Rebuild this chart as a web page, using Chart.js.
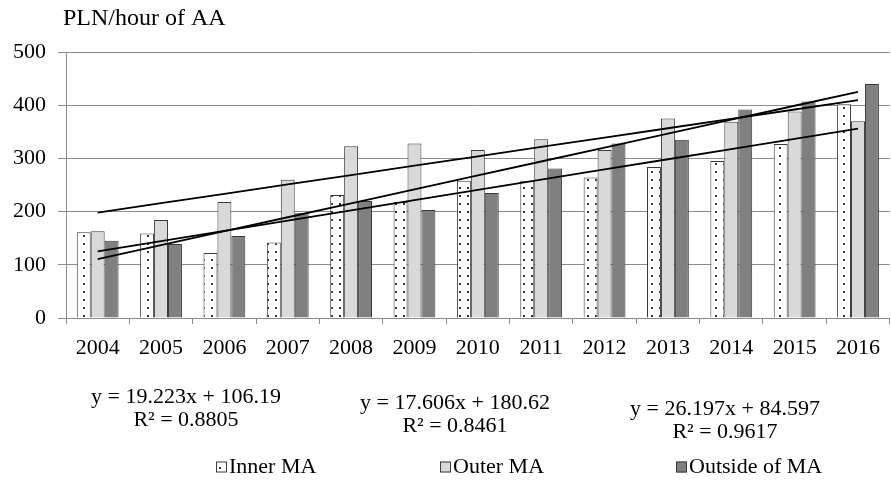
<!DOCTYPE html>
<html>
<head>
<meta charset="utf-8">
<script src="https://cdn.jsdelivr.net/npm/chart.js@4.4.1/dist/chart.umd.min.js"></script>
<style>
  html, body { margin: 0; padding: 0; background: #ffffff; }
  #wrap { position: relative; width: 891px; height: 488px; }
</style>
</head>
<body>
<div id="wrap"><canvas id="c" width="891" height="488"></canvas></div>
<script>
// Hourly rate (PLN per hour of AA), by year and area
const years = ['2004','2005','2006','2007','2008','2009','2010','2011','2012','2013','2014','2015','2016'];
const innerMA   = [161, 159, 122, 142, 231, 218, 258, 258, 264, 284, 295, 327, 402];
const outerMA   = [163, 184, 218, 260, 323, 328, 316, 336, 316, 375, 369, 388, 370];
const outsideMA = [145, 139, 154, 197, 220, 203, 235, 281, 328, 335, 392, 407, 440];
const seriesNames = ['Inner MA', 'Outer MA', 'Outside of MA'];

// Linear trend lines (x = 1 .. 13) as given by their equations
const trendSlopes     = [19.223, 17.606, 26.197];
const trendIntercepts = [106.19, 180.62, 84.597];
const trendSlopeText  = ['19.223', '17.606', '26.197'];
const trendInterText  = ['106.19', '180.62', '84.597'];
const trendR2Text     = ['0.8805', '0.8461', '0.9617'];

const yAxisTitle = 'PLN/hour of AA';
const FONT = '"Liberation Serif", "Times New Roman", serif';

const canvas = document.getElementById('c');
const ctx = canvas.getContext('2d');

// Dotted fill used for the Inner MA bars
function makeDotPattern() {
  const tile = document.createElement('canvas');
  tile.width = 8; tile.height = 8;
  const g = tile.getContext('2d');
  g.fillStyle = '#ffffff';
  g.fillRect(0, 0, 8, 8);
  g.fillStyle = '#333333';
  g.fillRect(3, 3, 2, 2);
  return ctx.createPattern(tile, 'repeat');
}
const dots = makeDotPattern();
const fills = [dots, '#d9d9d9', '#808080'];

function trendValues(k) {
  return years.map((_, i) => trendSlopes[k] * (i + 1) + trendIntercepts[k]);
}

const barSets = [innerMA, outerMA, outsideMA].map((vals, k) => ({
  type: 'bar',
  label: seriesNames[k],
  data: vals,
  backgroundColor: fills[k],
  borderColor: '#3a3a3a',
  borderWidth: 1,
  borderSkipped: 'bottom',
  categoryPercentage: 0.66,
  barPercentage: 1.0,
  order: 2
}));

const lineSets = [0, 1, 2].map(k => ({
  type: 'line',
  label: 'Linear (' + seriesNames[k] + ')',
  data: trendValues(k),
  borderColor: '#000000',
  borderWidth: 1.8,
  pointRadius: 0,
  fill: false,
  tension: 0,
  order: 0
}));

// Equations, axis title and legend drawn around the plot
const decorations = {
  id: 'decorations',
  afterDraw(chart) {
    const c = chart.ctx;
    c.save();
    c.fillStyle = '#000000';
    c.font = '24px ' + FONT;
    c.textAlign = 'left';
    c.textBaseline = 'alphabetic';
    c.fillText(yAxisTitle, 63, 25);

    c.font = '22px ' + FONT;
    c.textAlign = 'center';
    c.textBaseline = 'middle';
    const eqX = [186, 455, 725];
    const eqY = [397, 403, 409];
    for (let k = 0; k < 3; k++) {
      c.fillText('y = ' + trendSlopeText[k] + 'x + ' + trendInterText[k], eqX[k], eqY[k]);
      c.fillText('R\u00B2 = ' + trendR2Text[k], eqX[k], eqY[k] + 23);
    }

    // legend
    const legX = [216, 440, 676];
    const legY = 467;
    const box = 11;
    c.textAlign = 'left';
    for (let k = 0; k < 3; k++) {
      const ds = chart.data.datasets[k];
      c.fillStyle = ds.backgroundColor;
      c.fillRect(legX[k], legY - box / 2, box, box);
      c.strokeStyle = '#3a3a3a';
      c.lineWidth = 1;
      c.strokeRect(legX[k] + 0.5, legY - box / 2 + 0.5, box - 1, box - 1);
      c.fillStyle = '#000000';
      c.fillText(ds.label, legX[k] + box + 2, legY);
    }
    c.restore();
  }
};

new Chart(canvas, {
  data: {
    labels: years,
    datasets: [...barSets, ...lineSets]
  },
  options: {
    responsive: false,
    devicePixelRatio: 1,
    animation: false,
    layout: { padding: { top: 52, right: 0, bottom: 130, left: 0 } },
    plugins: {
      legend: { display: false },
      title: { display: false },
      tooltip: { enabled: false }
    },
    scales: {
      x: {
        offset: true,
        grid: {
          display: true,
          offset: true,
          drawOnChartArea: false,
          drawTicks: true,
          tickLength: 6,
          color: '#8c8c8c'
        },
        border: { display: true, color: '#8c8c8c', width: 1 },
        ticks: {
          color: '#000000',
          font: { family: FONT, size: 22 },
          padding: 11,
          maxRotation: 0,
          autoSkip: false
        },
        afterFit(scale) { scale.height = 40; }
      },
      y: {
        min: 0,
        max: 500,
        ticks: {
          stepSize: 100,
          color: '#000000',
          font: { family: FONT, size: 22 },
          padding: 12
        },
        grid: {
          color: '#8c8c8c',
          lineWidth: 1,
          tickLength: 8
        },
        border: { display: true, color: '#8c8c8c', width: 1 },
        afterFit(scale) { scale.width = 66; }
      }
    }
  },
  plugins: [decorations]
});
</script>
</body>
</html>
